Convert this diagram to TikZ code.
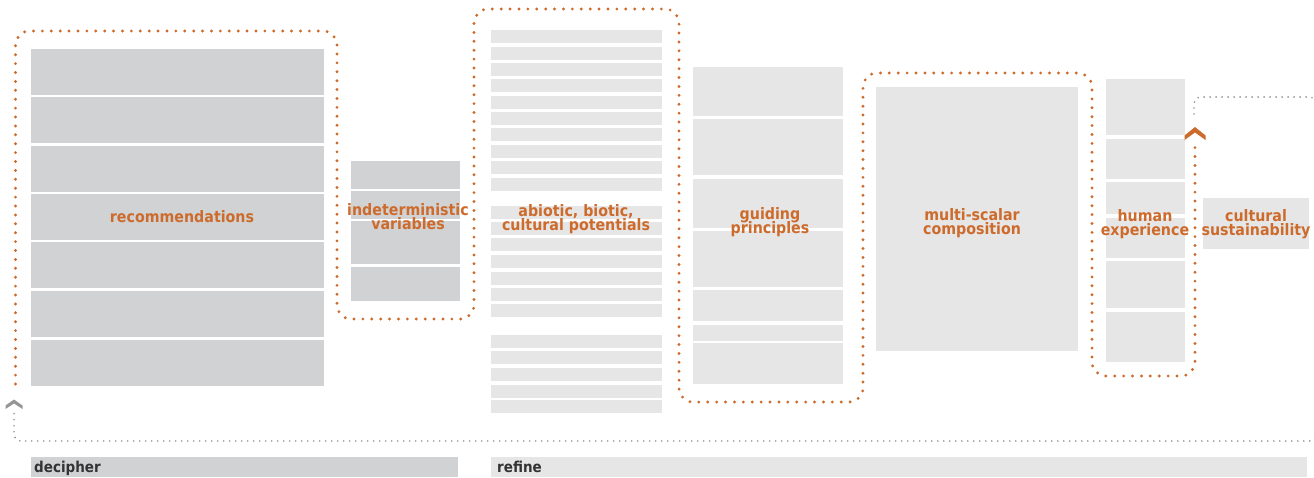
\documentclass[tikz,border=0pt]{standalone}
\usepackage{fontspec}
\newfontfamily\lblfont{DejaVu Sans}[FakeStretch=0.9]
\definecolor{org}{RGB}{205,107,45}
\definecolor{bxd}{RGB}{209,210,212}
\definecolor{bxl}{RGB}{230,230,230}
\definecolor{gdot}{RGB}{150,150,150}
\definecolor{txtd}{RGB}{51,51,51}
\tikzset{
  odots/.style={draw=org, line width=3.2pt, line cap=round, dash pattern=on 0pt off 8.9pt, rounded corners=14pt},
  gdots/.style={draw=gdot, line width=1.9pt, line cap=round, dash pattern=on 0pt off 6pt, rounded corners=7pt},
  lbl/.style={text=org, font=\lblfont\bfseries\fontsize{15.8}{14}\selectfont, inner sep=0pt, anchor=base},
  barlbl/.style={text=txtd, font=\lblfont\bfseries\fontsize{15}{15}\selectfont, inner sep=0pt, anchor=base west},
  dkbox/.style={fill=bxd},
  ltbox/.style={fill=bxl}
}
\begin{document}
\begin{tikzpicture}[x=1pt,y=-1pt]
\useasboundingbox (0,0) rectangle (1314,477);
\clip (0,0) rectangle (1314,477);
% recommendations
\foreach \t in {49,97,146,194,242,291,340}
  \fill[dkbox] (31,\t) rectangle (324,\t+46);
% indeterministic
\fill[dkbox] (351,161) rectangle (460,189);
\fill[dkbox] (351,191) rectangle (460,219);
\fill[dkbox] (351,221) rectangle (460,264);
\fill[dkbox] (351,267) rectangle (460,301);
% abiotic
\foreach \t in {30,47,63,79,96,112,128,145,161,178,206,222,238,255,272,288,304,335,351,368,385,400}
  \fill[ltbox] (491,\t) rectangle (662,\t+12.7);
% guiding
\foreach \a/\b in {67/116,119/175,179/228,231/287,290/321,325/341,343/384}
  \fill[ltbox] (693,\a) rectangle (843,\b);
% multi-scalar
\fill[ltbox] (876,87) rectangle (1078,351);
% human
\foreach \a/\b in {79/135,139/179,182/214,218/258,261/308,312/362}
  \fill[ltbox] (1106,\a) rectangle (1185,\b);
% cultural
\fill[ltbox] (1203,198) rectangle (1309,249);
% bottom bars
\fill[dkbox] (31,457) rectangle (458,477);
\fill[ltbox] (491,457) rectangle (1307,477);
\node[barlbl] (dec) at (34,472) {decipher};
\node[barlbl] (ref) at (497,472) {refine};
% labels
\node[lbl] (rec) at (182,222) {recommendations};
\node[lbl] (ind1) at (408,215) {indeterministic};
\node[lbl] (ind2) at (408,229) {variables};
\node[lbl] (abi1) at (576,216.5) {abiotic, biotic,};
\node[lbl] (abi2) at (576,230) {cultural potentials};
\node[lbl] (gui1) at (770,219.5) {guiding};
\node[lbl] (gui2) at (770,233) {principles};
\node[lbl] (mul1) at (972,220) {multi-scalar};
\node[lbl] (mul2) at (972,234) {composition};
\node[lbl] (hum1) at (1145,221.5) {human};
\node[lbl] (hum2) at (1145,235.5) {experience};
\node[lbl] (cul1) at (1256,221.5) {cultural};
\node[lbl] (cul2) at (1256,235.5) {sustainability};
% orange snake connector
\coordinate (ostart) at (15.5,384);
\coordinate (oend) at (1195,142);
\draw[odots] (ostart) -- (15.5,31) -- (337,31) -- (337,319) -- (474,319) -- (474,9)
  -- (679,9) -- (679,402) -- (863,402) -- (863,73) -- (1092,73) -- (1092,376)
  -- (1195,376) -- (oend);
\fill[org] (1184.5,135.5) -- (1195,127) -- (1205.5,135.5) -- (1205.5,140) -- (1195,132.5) -- (1184.5,140) -- cycle;
% gray return loop
\coordinate (gstart) at (1194,114);
\coordinate (gend) at (14,410);
\draw[gdots] (gstart) -- (1194,97) -- (1316,97) -- (1316,441) -- (14,441) -- (gend);
\fill[gdot] (5.5,405.5) -- (14,399.5) -- (22.5,405.5) -- (22.5,409) -- (14,403.5) -- (5.5,409) -- cycle;
\end{tikzpicture}
\end{document}
